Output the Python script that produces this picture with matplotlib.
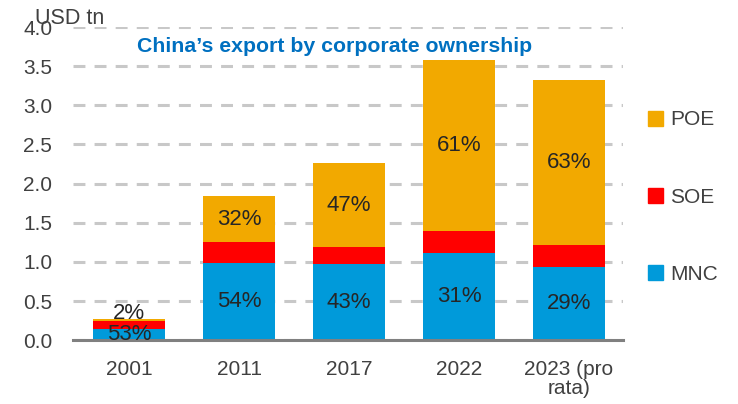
import matplotlib
matplotlib.use("Agg")
import matplotlib.pyplot as plt
from matplotlib.patches import Patch

plt.rcParams['font.family'] = ['Liberation Sans', 'DejaVu Sans']

categories = ["2001", "2011", "2017", "2022", "2023 (pro\nrata)"]
mnc = [0.14, 0.99, 0.97, 1.11, 0.94]
soe = [0.10, 0.26, 0.22, 0.28, 0.28]
poe = [0.025, 0.59, 1.07, 2.19, 2.11]
mnc_pct = ["53%", "54%", "43%", "31%", "29%"]
poe_pct = ["2%", "32%", "47%", "61%", "63%"]

c_poe = "#F2A900"
c_soe = "#FF0000"
c_mnc = "#009ADA"
txt = "#404040"

fig = plt.figure(figsize=(7.38, 4.04), dpi=100)
ax = fig.add_axes([0.099, 0.158, 0.745, 0.775])

x = list(range(len(categories)))
width = 0.66
ax.bar(x, mnc, width, color=c_mnc, zorder=3)
ax.bar(x, soe, width, bottom=mnc, color=c_soe, zorder=3)
base2 = [a + b for a, b in zip(mnc, soe)]
ax.bar(x, poe, width, bottom=base2, color=c_poe, zorder=3)

ax.set_xlim(-0.51, 4.49)
ax.set_ylim(0, 4.0)
ax.set_yticks([0.0, 0.5, 1.0, 1.5, 2.0, 2.5, 3.0, 3.5, 4.0])
ax.set_yticklabels([f"{v:.1f}" for v in ax.get_yticks()])
ax.set_xticks(x)
ax.set_xticklabels(categories, linespacing=1.05)
ax.tick_params(axis='y', length=0, pad=15, labelsize=15, labelcolor=txt)
ax.tick_params(axis='x', length=0, pad=14, labelsize=15, labelcolor=txt)

ax.yaxis.grid(True, color="#C8C8C8", linewidth=2.2,
              linestyle=(0, (3.9, 3.0)), zorder=0)
ax.set_axisbelow(True)
for s in ("left", "right", "top"):
    ax.spines[s].set_visible(False)
ax.spines["bottom"].set_color("#808080")
ax.spines["bottom"].set_linewidth(2.2)
ax.spines["bottom"].set_zorder(4)

# share labels
for i in x:
    ax.text(i, mnc[i] / 2, mnc_pct[i], ha="center", va="center",
            fontsize=16, color="#262626", zorder=5)
    if poe[i] < 0.1:
        ax.text(i, base2[i] + poe[i], poe_pct[i], ha="center", va="baseline",
                fontsize=16, color="#262626", zorder=5)
    else:
        ax.text(i, base2[i] + poe[i] / 2, poe_pct[i], ha="center", va="center",
                fontsize=16, color="#262626", zorder=5)

handles = [Patch(color=c_poe), Patch(color=c_soe), Patch(color=c_mnc)]
leg = fig.legend(handles, ["POE", "SOE", "MNC"], loc="upper left",
                 bbox_to_anchor=(0.852, 0.773), frameon=False,
                 fontsize=15, handlelength=0.75, handleheight=0.75,
                 handletextpad=0.35, labelspacing=2.8)
for t in leg.get_texts():
    t.set_color(txt)

fig.text(35 / 738, 1 - 24 / 404, "USD tn", fontsize=15.5, color=txt,
         va="baseline", ha="left")
fig.text(335 / 738, 1 - 52 / 404, "China\u2019s export by corporate ownership",
         fontsize=15.3, fontweight="bold", color="#0070C0",
         ha="center", va="baseline")

fig.savefig("out.png", dpi=100)
